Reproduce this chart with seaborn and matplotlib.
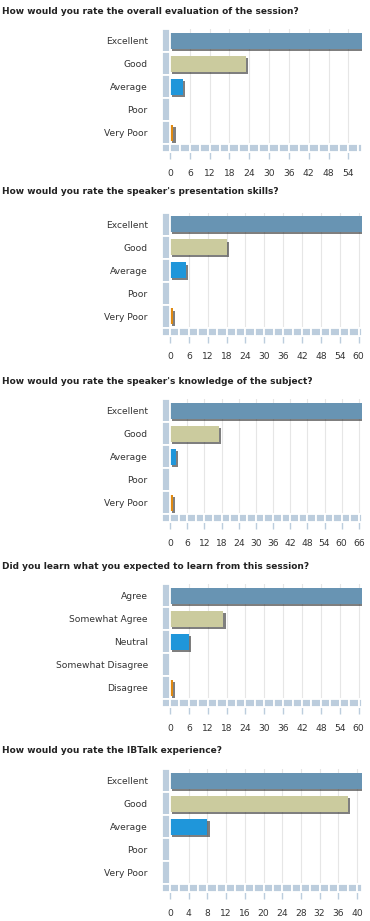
import matplotlib
matplotlib.use('Agg')
import matplotlib.pyplot as plt
import matplotlib.patheffects as pe
from matplotlib.patches import Rectangle
import seaborn as sns
import numpy as np
import pandas as pd

sns.set_style('white')
plt.rcParams['font.family'] = ['DejaVu Sans']

# data
titles = [
    'How would you rate the overall evaluation of the session?',
    "How would you rate the speaker's presentation skills?",
    "How would you rate the speaker's knowledge of the subject?",
    'Did you learn what you expected to learn from this session?',
    'How would you rate the IBTalk experience?',
]
rating_labels = ['Excellent', 'Good', 'Average', 'Poor', 'Very Poor']
agree_labels = ['Agree', 'Somewhat Agree', 'Neutral', 'Somewhat Disagree', 'Disagree']

overall_counts = [58, 23, 4, 0, 1]
presentation_counts = [61, 18, 5, 0, 1]
knowledge_counts = [67, 17, 2, 0, 1]
learned_counts = [61, 17, 6, 0, 1]
ibtalk_counts = [41, 38, 8, 0, 0]

tick_steps = [6, 6, 6, 6, 4]
tick_max = [54, 60, 66, 60, 40]

bar_colors = ['#6894b3', '#cbcb9e', '#1f96da', '#888888', '#e08a12']
strip_color = '#bccddd'
grid_color = '#e6e6e6'
text_color = '#333333'

panels = [
    (titles[0], rating_labels, overall_counts),
    (titles[1], rating_labels, presentation_counts),
    (titles[2], rating_labels, knowledge_counts),
    (titles[3], agree_labels, learned_counts),
    (titles[4], rating_labels, ibtalk_counts),
]

# figure layout in pixels
W, H = 370, 921
fig = plt.figure(figsize=(W / 100, H / 100), dpi=100)
plot_tops = [29.3, 212.7, 399.3, 584.3, 769.3]
title_ys = [11, 191, 381.5, 566, 750]
ax_left, ax_right = 161.7, 361.7
ax_h = 123
strip_px = 8.3
cat_px = (ax_h - 8) / 5

for k, (title, cats, vals) in enumerate(panels):
    top = plot_tops[k]
    ax = fig.add_axes([ax_left / W, 1 - (top + ax_h) / H,
                       (ax_right - ax_left) / W, ax_h / H])
    xmax = max(vals)
    xmin = -xmax * strip_px / (ax_right - ax_left - strip_px)
    ybottom = 4.5 + 8 / cat_px

    # gridlines
    step = tick_steps[k]
    ticks = np.arange(0, tick_max[k] + 1, step)
    for t in ticks[1:]:
        ax.plot([t, t], [-0.6, 4.5], color=grid_color, lw=0.8, zorder=0)

    df = pd.DataFrame({'category': cats, 'count': vals})
    sns.barplot(data=df, x='count', y='category', hue='category',
                palette=bar_colors, orient='h', width=0.68,
                legend=False, ax=ax, saturation=1, zorder=2,
                edgecolor='none', linewidth=0)
    for bar in ax.patches:
        bar.set_path_effects([
            pe.SimplePatchShadow(offset=(1.6, -1.6), shadow_rgbFace='#2a2a2a', alpha=0.6),
            pe.Normal()])

    # left strip blocks
    for i in range(5):
        ax.add_patch(Rectangle((xmin, i - 0.5), -xmin, 1, facecolor=strip_color,
                               edgecolor='white', lw=1.3, zorder=3, clip_on=False))
    # bottom strip blocks
    halfs = np.arange(0, xmax + 1e-9, step / 2)
    edges = sorted(set([xmin] + list(halfs) + [xmax]))
    for a, b in zip(edges[:-1], edges[1:]):
        ax.add_patch(Rectangle((a, 4.5), b - a, ybottom - 4.5, facecolor=strip_color,
                               edgecolor='white', lw=1.3, zorder=3, clip_on=False))

    ax.set_xlim(xmin, xmax)
    ax.set_ylim(ybottom, -0.5)
    ax.set_xticks(ticks)
    ax.set_xticklabels([str(t) for t in ticks])
    ax.tick_params(axis='x', length=5, width=1, color=strip_color, pad=7,
                   labelsize=6.6, labelcolor=text_color, bottom=True)
    ax.tick_params(axis='y', length=0, pad=10, labelsize=6.6, labelcolor=text_color)
    ax.set_xlabel('')
    ax.set_ylabel('')
    for s in ax.spines.values():
        s.set_visible(False)

    fig.text(2 / W, 1 - title_ys[k] / H, title, fontsize=6.5, fontweight='bold',
             color='#222222', va='center', ha='left')

fig.savefig('out.png', dpi=100)
